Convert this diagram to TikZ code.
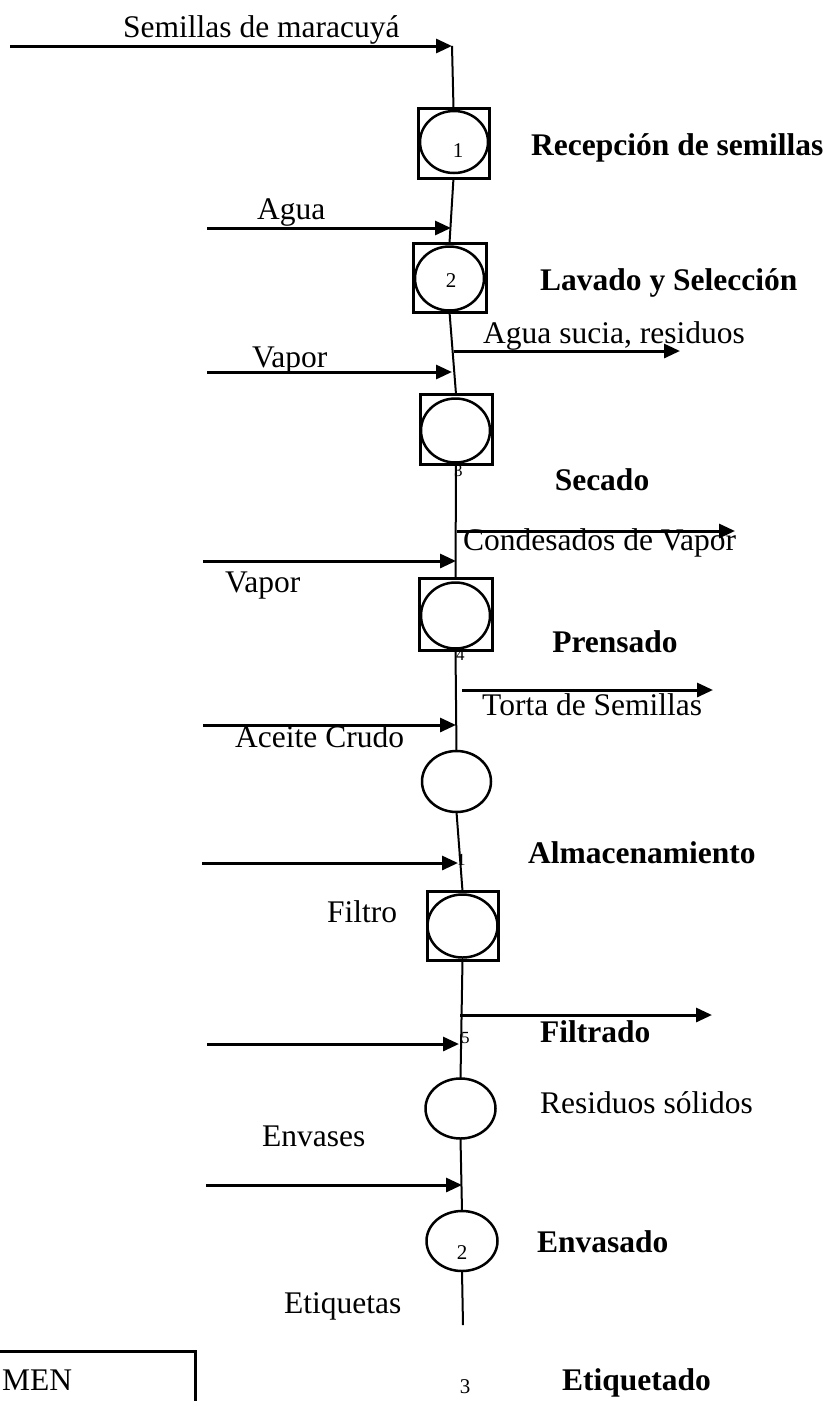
\documentclass[tikz,border=0pt]{standalone}
\usepackage{fontspec}
\setmainfont{Liberation Serif}
\usetikzlibrary{arrows.meta,shapes.geometric}
\begin{document}
\begin{tikzpicture}[x=1pt,y=-1pt,
  txt/.style={font=\fontsize{31.5}{36}\selectfont, inner sep=0pt},
  btxt/.style={font=\fontsize{31.5}{36}\selectfont\bfseries, inner sep=0pt},
  numA/.style={font=\fontsize{21}{24}\selectfont, inner sep=0pt},
  numB/.style={font=\fontsize{17}{19}\selectfont, inner sep=0pt},
  opbox/.style={draw, line width=3pt, rectangle, inner sep=0pt, outer sep=0pt},
  opell/.style={draw, line width=2.5pt, ellipse, inner sep=0pt, outer sep=0pt},
  vline/.style={line width=2pt},
  flow/.style={line width=3pt, -{Triangle[length=16pt,width=14pt]}},
]
\useasboundingbox (0,0) rectangle (831,1401);

% operation boxes and circles
\node[opbox, minimum width=71pt, minimum height=70pt] (b1) at (453.5,143) {};
\node[opell, minimum width=68pt, minimum height=62pt] (e1) at (454,142) {};
\node[opbox, minimum width=73pt, minimum height=69pt] (b2) at (449.5,277.5) {};
\node[opell, minimum width=69pt, minimum height=64pt] (e2) at (449.5,278.5) {};
\node[opbox, minimum width=72pt, minimum height=70pt] (b3) at (456,429) {};
\node[opell, minimum width=69pt, minimum height=64pt] (e3) at (455.5,430.5) {};
\node[opbox, minimum width=73pt, minimum height=72pt] (b4) at (455.5,614) {};
\node[opell, minimum width=69pt, minimum height=66pt] (e4) at (455.5,615.5) {};
\node[opell, minimum width=69pt, minimum height=61pt] (e5) at (456.5,781.5) {};
\node[opbox, minimum width=71pt, minimum height=69pt] (b6) at (462.5,925.5) {};
\node[opell, minimum width=70pt, minimum height=63pt] (e6) at (462.5,926) {};
\node[opell, minimum width=70pt, minimum height=60pt] (e7) at (460.5,1108.5) {};
\node[opell, minimum width=71pt, minimum height=60pt] (e8) at (462,1241) {};

% numbers
\node[numA, anchor=base] (n1) at (458,157) {1};
\node[numA, anchor=base] (n2) at (451,287) {2};
\node[numB, anchor=base west] (n3) at (454,476) {3};
\node[numB, anchor=base west] (n4) at (456,660) {4};
\node[numB, anchor=base west] (n5) at (457,865) {1};
\node[numB, anchor=base west] (n6) at (461,1043) {5};
\node[numA, anchor=base] (n7) at (462,1259) {2};
\node[numA, anchor=base] (n8) at (465,1393) {3};

% main line coordinates
\coordinate (top) at (452,46);
\coordinate (bottom) at (463,1325);
\coordinate (j1) at (451,228);
\coordinate (j2) at (452,372);
\coordinate (j3) at (456,561);
\coordinate (j4) at (456,725);
\coordinate (j5) at (458,863);
\coordinate (j6) at (459,1044);
\coordinate (j7) at (462,1185);
\coordinate (k1) at (454,351);
\coordinate (k2) at (457,531);
\coordinate (k3) at (462,690);
\coordinate (k4) at (460,1015);

% main vertical line
\draw[vline] (top) -- (b1.north);
\draw[vline] (b1.south) -- (b2.north);
\draw[vline] (b2.south) -- (b3.north);
\draw[vline] (b3.south) -- (b4.north);
\draw[vline] (b4.south) -- (e5.north);
\draw[vline] (e5.south) -- (b6.north);
\draw[vline] (b6.south) -- (e7.north);
\draw[vline] (e7.south) -- (e8.north);
\draw[vline] (e8.south) -- (bottom);

% inputs
\coordinate (s0) at (10,46);
\coordinate (s1) at (207,228);
\coordinate (s2) at (207,372);
\coordinate (s3) at (203,561);
\coordinate (s4) at (203,725);
\coordinate (s5) at (202,863);
\coordinate (s6) at (207,1044);
\coordinate (s7) at (206,1185);
\draw[flow] (s0) -- (top);
\draw[flow] (s1) -- (j1);
\draw[flow] (s2) -- (j2);
\draw[flow] (s3) -- (j3);
\draw[flow] (s4) -- (j4);
\draw[flow] (s5) -- (j5);
\draw[flow] (s6) -- (j6);
\draw[flow] (s7) -- (j7);

% outputs
\coordinate (t1) at (680,351);
\coordinate (t2) at (735,531);
\coordinate (t3) at (713,690);
\coordinate (t4) at (712,1015);
\draw[flow] (k1) -- (t1);
\draw[flow] (k2) -- (t2);
\draw[flow] (k3) -- (t3);
\draw[flow] (k4) -- (t4);

% labels
\node[txt, anchor=base west] (l0) at (123,37) {Semillas de maracuyá};
\node[btxt, anchor=base west] (l1) at (531,155) {Recepción de semillas};
\node[txt, anchor=base west] (l2) at (257,219) {Agua};
\node[btxt, anchor=base west] (l3) at (540,290) {Lavado y Selección};
\node[txt, anchor=base west] (l4) at (483,343) {Agua sucia, residuos};
\node[txt, anchor=base west] (l5) at (252,367) {Vapor};
\node[btxt, anchor=base] (l6) at (602,490) {Secado};
\node[txt, anchor=base west] (l7) at (463,550) {Condesados de Vapor};
\node[txt, anchor=base west] (l8) at (225,592) {Vapor};
\node[btxt, anchor=base] (l9) at (615,652) {Prensado};
\node[txt, anchor=base west] (l10) at (482,715) {Torta de Semillas};
\node[txt, anchor=base west] (l11) at (235,747) {Aceite Crudo};
\node[btxt, anchor=base west] (l12) at (528,863) {Almacenamiento};
\node[txt, anchor=base west] (l13) at (327,922) {Filtro};
\node[btxt, anchor=base west] (l14) at (540,1042) {Filtrado};
\node[txt, anchor=base west] (l15) at (540,1113) {Residuos sólidos};
\node[txt, anchor=base west] (l16) at (262,1146) {Envases};
\node[btxt, anchor=base west] (l17) at (537,1252) {Envasado};
\node[txt, anchor=base west] (l18) at (284,1313) {Etiquetas};
\node[btxt, anchor=base west] (l19) at (562,1390) {Etiquetado};

% bottom-left frame
\draw[line width=3pt] (0,1351) -- (195,1351) -- (195,1401);
\node[txt, anchor=base west] (l20) at (2,1390) {MEN};
\end{tikzpicture}
\end{document}
